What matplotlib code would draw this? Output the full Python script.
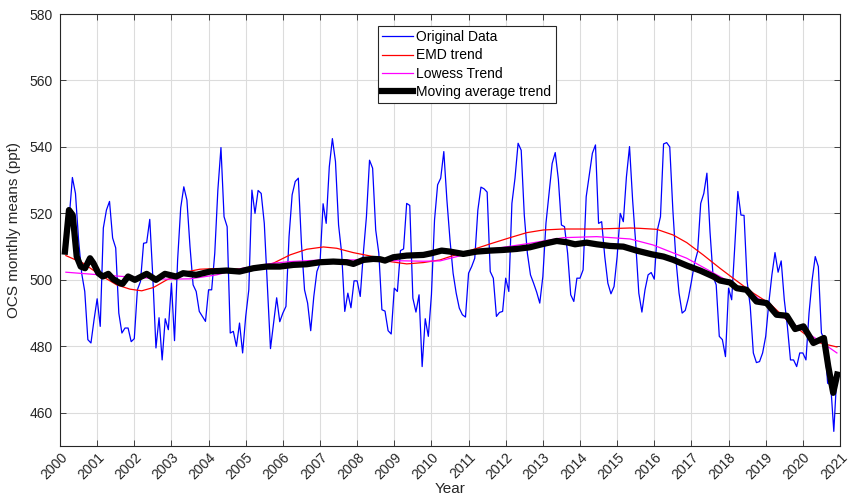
import numpy as np
import matplotlib
matplotlib.use("Agg")
import matplotlib.pyplot as plt

plt.rcParams['font.family'] = ['Liberation Sans', 'DejaVu Sans']

# ---- data (month index k: months since Jan 2000) ----
orig_start_k = 3
orig_values = [
    519, 530.8, 526, 512, 502, 496.5, 482, 481, 488, 494.3, 486, 515.6, 521, 523.6,
    512.6, 509.6, 490, 484, 485.5, 485.5, 481.4, 482.3, 497, 499.5, 511, 511.2, 518.2,
    500.6, 479.5, 488.6, 475.9, 488.3, 485, 499, 481.7, 506, 521.7, 528, 524, 510,
    498.5, 496.5, 490.5, 489, 487.5, 497, 497, 508, 527, 539.8, 519, 516, 484, 484.5,
    480, 487, 478, 489, 497, 527, 520, 526.9, 526, 517, 498, 479.3, 487, 494.6, 487.4,
    490, 492, 513, 525.6, 529.6, 530.6, 511, 497, 493, 484.7, 495, 502.5, 505, 522.9,
    517, 534, 542.5, 535.6, 516.5, 508, 490.5, 496, 491.6, 499.7, 499.7, 495, 508,
    519, 536, 533.6, 515, 508, 491, 490.6, 484.7, 483.7, 497.5, 496.5, 508.8, 509.3,
    523, 522.4, 494.5, 490.3, 495.5, 473.9, 488.3, 483, 495.5, 518, 528.6, 530.6,
    538.6, 524, 512, 502, 496, 491.5, 489.5, 488.8, 502, 504, 506.5, 521, 527.9, 527.4,
    526.4, 502.5, 500.5, 489, 490.2, 490.5, 500.5, 496.5, 523, 530.6, 541.1, 539,
    519.5, 508, 501.5, 499, 496.3, 493, 501, 517, 526, 535, 538.3, 530.3, 516.5, 516,
    508, 495.5, 493.5, 500.5, 500.5, 503, 525, 531.6, 538.1, 540.6, 517, 517.5, 507,
    499, 495.8, 498, 507, 520, 517.5, 531, 540.1, 524, 511, 496, 490.3, 497, 501.5,
    502.2, 500.2, 515, 519, 540.9, 541.3, 540, 521, 506, 496, 490, 490.8, 494.5, 499.5,
    505, 508.5, 523, 526, 532.1, 514.5, 501, 498.5, 483, 482, 476.9, 497.5, 494, 510,
    526.6, 519.5, 519.4, 499.5, 492, 478, 475.1, 475.4, 478, 483, 493, 501.5, 508.2,
    502.3, 505.7, 494, 486, 475.9, 475.9, 473.9, 478, 478, 475.9, 490, 500, 507, 504,
    484, 482, 468.9, 468.4, 454.4, 471.9,
]

emd_k = [1.9, 7.5, 12.9, 18.3, 22.6, 26.4, 30.2, 34.5, 39.8, 45.2, 50.6, 54.9, 58,
         64.6, 68.9, 74.3, 79.7, 85.1, 89.4, 94.7, 101.2, 106.6, 112, 117.4, 122.8,
         126, 132.4, 138.9, 145.4, 150.8, 156.1, 162.6, 173.4, 184.2, 187.4, 192.8,
         198.1, 202.5, 207.8, 213.2, 218.6, 224, 229.4, 234.8, 240.2, 245.6, 251]
emd_values = [507.3, 505, 501.5, 498.5, 497.2, 496.7, 497.7, 500, 502.2, 503.2, 503.4,
              503.2, 503.3, 504, 505, 507.5, 509.2, 509.9, 509.5, 508.2, 507, 505.5,
              504.8, 505.2, 506, 507, 508.8, 510.8, 512.7, 514.2, 515, 515.3, 515.3,
              515.6, 515.5, 515.2, 513.5, 511.2, 507.5, 503.5, 499.7, 496, 492.8, 488,
              484, 481, 479.8]

lowess_k = [1.9, 12.9, 23.7, 34.5, 42, 50.6, 58, 68.9, 74.3, 85.1, 95.8, 106.6, 117.4,
            122.8, 130.3, 141.1, 151.8, 162.6, 173.4, 184.2, 191.6, 202.5, 213.2, 224,
            234.8, 245.6, 251]
lowess_values = [502.3, 501.5, 500.8, 500.2, 500.3, 501.5, 503.3, 505, 505.5, 506, 506,
                 505.8, 505.6, 505.7, 507.5, 509.5, 511, 512.7, 513, 512.3, 510.5, 506.5,
                 501, 495.5, 488, 481.5, 478]

ma_k = [1.6, 2.9, 4.1, 5.4, 6.7, 8.1, 9.7, 10.8, 12.4, 13.8, 15.6, 17.2, 19.4, 20.2, 22,
        24.2, 28, 31, 33.9, 37.5, 39.8, 44, 48.5, 53.8, 58, 62.5, 66.7, 71, 75.4, 79.7,
        84, 88.3, 92.6, 94.8, 98, 101.2, 103.4, 105, 107.7, 112, 117.4, 120, 123.3, 126,
        130.3, 134.6, 138.9, 143.2, 147.5, 151.8, 156.1, 160.5, 163.7, 166.4, 170.1,
        173.4, 177.7, 182, 186.3, 191.1, 195, 198.2, 202.5, 206.8, 211.1, 213.2, 216.5,
        218.6, 221.8, 225, 228.3, 231.5, 234.8, 237.5, 240.2, 243.4, 246.8, 248.2,
        249.8, 251.1]
ma_values = [508.5, 521, 519.5, 507, 504, 503.5, 506.5, 505, 502, 501, 501.8, 500.2, 499,
             498.8, 501, 500, 501.8, 500, 501.8, 501, 502, 501.5, 502.5, 502.8, 502.5,
             503.5, 504, 504, 504.5, 504.7, 505.3, 505.5, 505.3, 504.8, 506, 506.3, 506.2,
             505.8, 506.8, 507.3, 507.5, 508, 508.8, 508.5, 507.8, 508.5, 508.8, 509,
             509.3, 509.8, 510.8, 511.7, 511.3, 510.7, 511.2, 510.7, 510.2, 510, 508.8,
             507.7, 507, 506, 504.3, 502.8, 501, 499.8, 499.2, 497.5, 497, 493.5, 493,
             489.5, 489.2, 485.2, 486, 481, 482.5, 474, 466, 471.5]

year_ticks = list(range(2000, 2022))
y_ticks = [460, 480, 500, 520, 540, 560, 580]
legend_labels = ["Original Data", "EMD trend", "Lowess Trend", "Moving average trend"]


def to_year(k):
    return 2000 + np.asarray(k, dtype=float) / 12.0


orig_t = to_year(np.arange(orig_start_k, orig_start_k + len(orig_values)))

fig = plt.figure(figsize=(8.51, 4.99), dpi=100)
ax = fig.add_axes([60 / 851, 53 / 499, 780 / 851, 432 / 499])

ax.plot(orig_t, orig_values, color='#0000ff', lw=0.9, label=legend_labels[0])
ax.plot(to_year(emd_k), emd_values, color='#ff0000', lw=0.9, label=legend_labels[1])
ax.plot(to_year(lowess_k), lowess_values, color='#ff00ff', lw=0.9, label=legend_labels[2])
ax.plot(to_year(ma_k), ma_values, color='black', lw=4.5, solid_joinstyle='round',
        label=legend_labels[3])

ax.set_xlim(2000, 2021)
ax.set_ylim(450, 580)
ax.set_xticks(year_ticks)
ax.set_xticklabels([str(y) for y in year_ticks], rotation=45, ha='right',
                   rotation_mode='anchor')
ax.set_yticks(y_ticks)

dark = '#262626'
for s in ax.spines.values():
    s.set_color(dark)
    s.set_linewidth(0.8)
ax.tick_params(direction='in', length=4, width=0.6, colors=dark, labelsize=10,
               top=True, right=True, pad=5)
ax.tick_params(axis='x', pad=3)
ax.grid(True, color='#dcdcdc', lw=0.8)
ax.set_axisbelow(True)

ax.set_xlabel('Year', fontsize=11, color=dark, labelpad=0)
ax.set_ylabel('OCS monthly means (ppt)', fontsize=11, color=dark, labelpad=6)

leg = ax.legend(loc='upper left', bbox_to_anchor=(0.408, 0.972), fontsize=10,
                frameon=True, fancybox=False, edgecolor=dark, framealpha=1,
                handlelength=2.2, handletextpad=0.25, labelspacing=0.3,
                borderpad=0.3, borderaxespad=0)
leg.get_frame().set_linewidth(0.8)
for t in leg.get_texts():
    t.set_color('black')

fig.savefig('out.png', dpi=100)
